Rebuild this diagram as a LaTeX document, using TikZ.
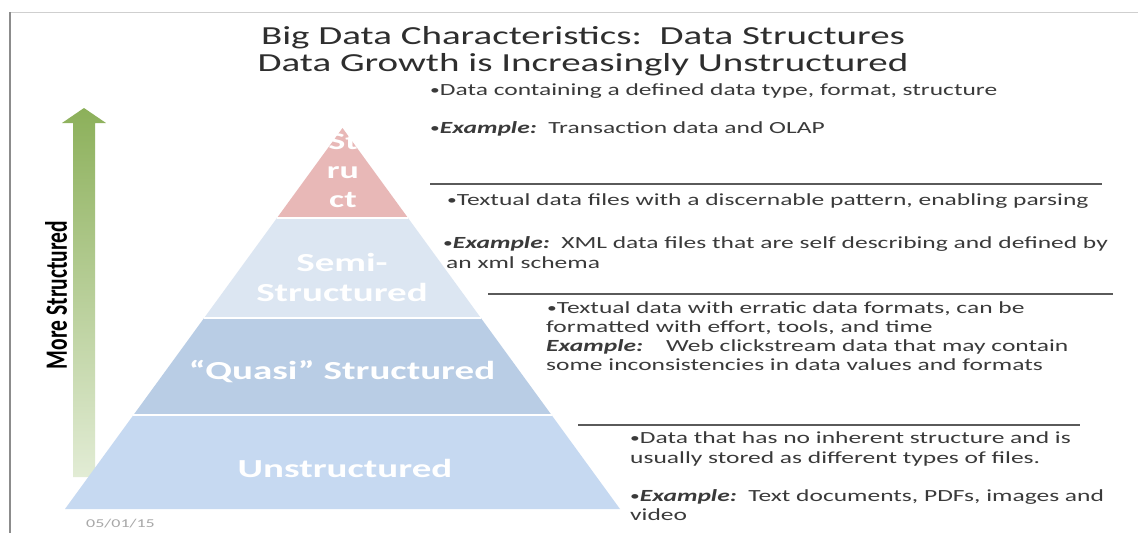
\documentclass[tikz,border=0pt]{standalone}
\usepackage{fontspec}
\setmainfont{Carlito}[FakeStretch=1.5]
\newfontfamily\sidefont{Carlito}[FakeStretch=0.694]
\usetikzlibrary{calc}
\definecolor{titlecol}{HTML}{2E2E2E}
\definecolor{bodycol}{HTML}{3A3A3A}
\definecolor{redlayer}{HTML}{E8B8B7}
\definecolor{semilayer}{HTML}{DCE6F2}
\definecolor{quasilayer}{HTML}{B9CDE5}
\definecolor{unstlayer}{HTML}{C6D9F1}
\definecolor{frameleft}{HTML}{8C8C8C}
\definecolor{frametop}{HTML}{CFCFCF}
\definecolor{sepline}{HTML}{5A5A5A}
\definecolor{arrowtop}{HTML}{8CB05A}
\definecolor{arrowbot}{HTML}{E2ECD5}
\definecolor{datecol}{HTML}{A8A8A8}
\newcommand{\exlabel}{\textbf{\textit{Example:}}}
\newcommand{\bul}{{\fontsize{13}{13}\selectfont\raisebox{1pt}{•}}}
\begin{document}
\begin{tikzpicture}[x=1pt,y=-1pt,
  titletext/.style={anchor=base, inner sep=0, font=\fontsize{26}{28}\selectfont, text=titlecol},
  bodytext/.style={anchor=base west, inner sep=0, font=\fontsize{17}{20}\selectfont, text=bodycol},
  layerlabel/.style={anchor=base, inner sep=0, font=\bfseries\fontsize{26}{28}\selectfont, text=white},
  toplabel/.style={anchor=base, inner sep=0, font=\bfseries\fontsize{24}{26}\selectfont, text=white},
  separator/.style={draw=sepline, line width=1.1pt},
  gapline/.style={draw=white, line width=2pt}
]
\useasboundingbox (0,0) rectangle (1138,533);
\fill[white] (0,0) rectangle (1138,533);

% frame
\draw[frametop, line width=1pt] (1138,12) -- (10,12);
\draw[frameleft, line width=2.2pt] (10,12) -- (10,533);

% title
\node[titletext] (title1) at (583,44) {Big Data Characteristics:\ \ Data Structures};
\node[titletext] (title2) at (583,71) {Data Growth is Increasingly Unstructured};

% arrow
\shade[top color=arrowtop, bottom color=arrowbot]
  (73,477) -- (73,123) -- (62,123) -- (84,108) -- (106,123) -- (95,123) -- (95,477) -- cycle;
\node[rotate=90, inner sep=0, font=\sidefont\bfseries\fontsize{31}{31}\selectfont, text=black] (more) at (56,295) {More Structured};

% pyramid
\coordinate (apex) at (342.5,128);
\coordinate (bl) at (65,509);
\coordinate (br) at (620,509);
\coordinate (l1) at ($(apex)!0.2362!(bl)$);
\coordinate (r1) at ($(apex)!0.2362!(br)$);
\coordinate (l2) at ($(apex)!0.4987!(bl)$);
\coordinate (r2) at ($(apex)!0.4987!(br)$);
\coordinate (l3) at ($(apex)!0.7533!(bl)$);
\coordinate (r3) at ($(apex)!0.7533!(br)$);
\fill[redlayer] (apex) -- (l1) -- (r1) -- cycle;
\fill[semilayer] (l1) -- (l2) -- (r2) -- (r1) -- cycle;
\fill[quasilayer] (l2) -- (l3) -- (r3) -- (r2) -- cycle;
\fill[unstlayer] (l3) -- (bl) -- (br) -- (r3) -- cycle;
\draw[gapline] (l1) -- (r1);
\draw[gapline] (l2) -- (r2);
\draw[gapline] (l3) -- (r3);

\node[toplabel] (st) at (343,149) {St};
\node[toplabel] (ru) at (343,178) {ru};
\node[toplabel] (ct) at (343,207) {ct};
\node[layerlabel] (semi1) at (342,271) {Semi-};
\node[layerlabel] (semi2) at (342,301) {Structured};
\node[layerlabel] (quasi) at (342,379) {“Quasi” Structured};
\node[layerlabel] (unst) at (345,477) {Unstructured};

% date
\node[inner sep=0, anchor=base west, font=\fontsize{12}{13}\selectfont, text=datecol] (date) at (86,527) {05/01/15};

% descriptions
\node[bodytext] (s1a) at (430,95) {\bul Data containing a defined data type, format, structure};
\node[bodytext] (s1b) at (430,133) {\bul\exlabel\ \ Transaction data and OLAP};
\coordinate (p1a) at (430,184); \coordinate (p1b) at (1102,184);
\draw[separator] (p1a) -- (p1b);

\node[bodytext] (s2a) at (447,205) {\bul Textual data files with a discernable pattern, enabling parsing};
\node[bodytext] (s2b) at (443,248) {\bul\exlabel\ \ XML data files that are self describing and defined by};
\node[bodytext] (s2c) at (446,268) {an xml schema};
\coordinate (p2a) at (488,294); \coordinate (p2b) at (1113,294);
\draw[separator] (p2a) -- (p2b);

\node[bodytext] (s3a) at (547,313) {\bul Textual data with erratic data formats, can be};
\node[bodytext] (s3b) at (546,332) {formatted with effort, tools, and time};
\node[bodytext] (s3c) at (546,351) {\exlabel\ \ \ \ Web clickstream data that may contain};
\node[bodytext] (s3d) at (546,370) {some inconsistencies in data values and formats};
\coordinate (p3a) at (578,425); \coordinate (p3b) at (1080,425);
\draw[separator] (p3a) -- (p3b);

\node[bodytext] (s4a) at (630,443) {\bul Data that has no inherent structure and is};
\node[bodytext] (s4b) at (630,463) {usually stored as different types of files.};
\node[bodytext] (s4c) at (630,501) {\bul\exlabel\ \ Text documents, PDFs, images and};
\node[bodytext] (s4d) at (630,520) {video};
\end{tikzpicture}
\end{document}
